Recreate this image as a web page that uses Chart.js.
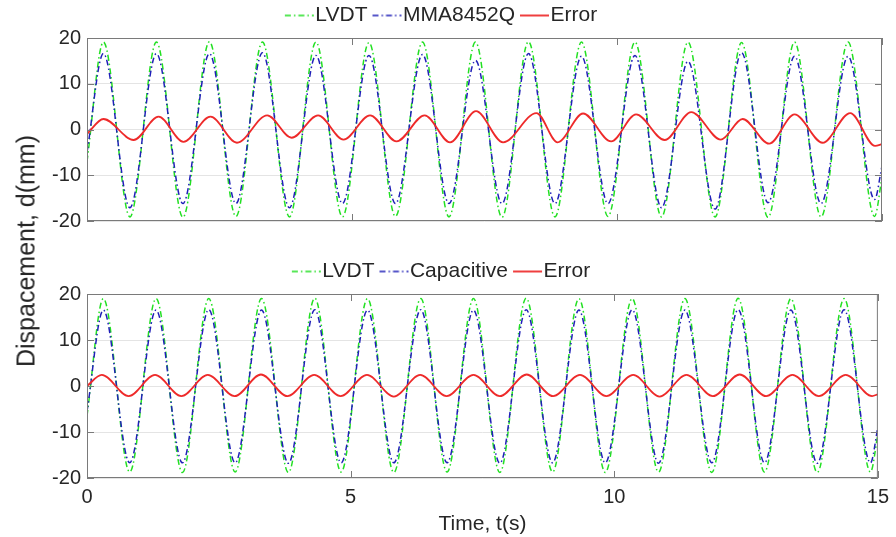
<!DOCTYPE html>
<html><head><meta charset="utf-8">
<script src="https://cdn.jsdelivr.net/npm/chart.js@4/dist/chart.umd.min.js"></script>
<style>
html,body{margin:0;padding:0;background:#fff;width:896px;height:537px;overflow:hidden;}
#wrap{position:relative;width:896px;height:537px;background:#fff;}
canvas{position:absolute;left:0;}
#c1{top:0;}
#c2{top:256px;}
#ylab{position:absolute;left:26px;top:251px;transform:translate(-50%,-50%) rotate(-90deg);font:25px 'Liberation Sans',Arial,sans-serif;color:#262626;white-space:nowrap;}
</style></head><body>
<div id="wrap">
<canvas id="c1" width="896" height="240"></canvas>
<canvas id="c2" width="896" height="281"></canvas>
<div id="ylab">Dispacement, d(mm)</div>
</div>
<script>
// ---- data (times of peaks / troughs in s, values in mm) ----
const extremeTimes = [0, 0.31,0.81, 1.31,1.81, 2.31,2.81, 3.31,3.82, 4.32,4.82, 5.32,5.82, 6.33,6.83, 7.33,7.83, 8.33,8.83, 9.33,9.83, 10.34,10.84, 11.34,11.85, 12.35,12.85, 13.35,13.85, 14.36,14.86, 15];
const lvdtTop = [-7, 19.1,-19.1, 19.1,-19.2, 19.2,-19.0, 19.1,-19.1, 19.1,-19.1, 19.0,-19.0, 19.1,-19.1, 19.1,-19.2, 19.2,-19.1, 19.1,-19.0, 19.1,-19.1, 19.1,-19.1, 19.0,-19.2, 19.1,-19.1, 19.1,-19.0, -10.5];
const mmaTop = [-5, 16.6,-17.1, 16.6,-16.2, 16.6,-16.2, 16.8,-17.1, 16.2,-16.2, 16.2,-16.2, 16.4,-16.2, 15.1,-16.2, 16.6,-16.2, 16.0,-16.2, 16.2,-17.1, 14.9,-17.4, 16.8,-16.0, 16.0,-16.2, 16.0,-15.3, -8];
const errTopTimes = [0, 0.31,0.88, 1.35,1.82, 2.33,2.83, 3.40,3.86, 4.36,4.84, 5.34,5.84, 6.37,6.85, 7.34,7.85, 8.48,8.88, 9.36,9.89, 10.36,10.90, 11.40,11.96, 12.37,12.87, 13.35,13.88, 14.40,14.87, 15];
const errTop = [-1, 2.3,-2.3, 2.8,-2.7, 2.8,-2.9, 3.1,-1.8, 3.1,-2.2, 3.1,-2.6, 3.1,-2.8, 4.0,-2.8, 3.6,-2.8, 3.5,-2.6, 3.3,-2.3, 3.8,-2.2, 2.3,-3.1, 3.3,-2.9, 3.6,-3.6, -3.2];
const lvdtBot = [-6.5, 19.0,-18.7, 19.0,-18.8, 19.0,-18.7, 19.0,-18.8, 19.1,-18.7, 19.0,-18.8, 19.0,-18.7, 19.0,-18.8, 19.1,-18.7, 19.0,-18.8, 19.0,-18.7, 19.0,-18.8, 19.1,-18.7, 19.0,-18.8, 19.0,-18.7, -10.5];
const capBot = [-5.5, 16.5,-16.7, 16.5,-16.7, 16.6,-16.7, 16.5,-16.8, 16.6,-16.7, 16.5,-16.7, 16.6,-16.7, 16.5,-16.8, 16.6,-16.7, 16.5,-16.7, 16.6,-16.8, 16.5,-16.7, 16.6,-16.7, 16.5,-16.8, 16.6,-16.7, -9];
const errBotTimes = [0, 0.28,0.79, 1.29,1.79, 2.29,2.80, 3.30,3.80, 4.31,4.81, 5.31,5.82, 6.32,6.82, 7.33,7.83, 8.34,8.84, 9.35,9.85, 10.36,10.86, 11.37,11.87, 12.38,12.88, 13.38,13.88, 14.39,14.89, 15];
const errBot = [0, 2.4,-2.2, 2.4,-2.2, 2.4,-2.2, 2.5,-2.2, 2.4,-2.2, 2.4,-2.3, 2.4,-2.2, 2.4,-2.2, 2.5,-2.2, 2.4,-2.2, 2.4,-2.3, 2.4,-2.2, 2.5,-2.2, 2.4,-2.2, 2.4,-2.2, -1.8];
const yTicks = [-20, -10, 0, 10, 20];
const xTicks = [0, 5, 10, 15];
const topNames = ['LVDT', 'MMA8452Q', 'Error'];
const botNames = ['LVDT', 'Capacitive', 'Error'];
const xTitle = 'Time, t(s)';

// ---- rendering ----
const FONT = "'Liberation Sans', Arial, Helvetica, sans-serif";
const TXT = '#262626';
Chart.defaults.font.family = FONT;
Chart.defaults.color = TXT;

const STYLES = [
  { color: '#22e022', width: 1.5, dash: [6, 3, 1.5, 3], order: 3 },
  { color: '#2020b8', width: 1.5, dash: [6, 3, 1.5, 3], order: 2 },
  { color: '#ee2a2a', width: 1.8, dash: [], order: 1 }
];

function sample(st) {
  const c = document.createElement('canvas');
  c.width = 50; c.height = 6;
  const g = c.getContext('2d');
  g.strokeStyle = st.color;
  g.lineWidth = st.width;
  g.setLineDash(st.dash);
  g.beginPath();
  g.moveTo(15, 3); g.lineTo(44, 3);
  g.stroke();
  return c;
}
const SAMPLES = STYLES.map(sample);

function pts(ts, vs) { return ts.map((t, i) => ({ x: t, y: vs[i] })); }

function makeChart(id, H, areaTop, areaBottom, names, series, showX) {
  const legendPad = {
    id: 'legendPad',
    beforeLayout(chart) {
      const lg = chart.legend;
      if (lg && !lg.__patched) {
        const f = lg.fit;
        lg.fit = function () { f.call(this); this.height = areaTop; };
        lg.__patched = true;
      }
    }
  };
  const boxTicks = {
    id: 'boxTicks',
    afterDraw(chart) {
      const { ctx, chartArea: a, scales: { x, y } } = chart;
      ctx.save();
      ctx.strokeStyle = '#7a7a7a';
      ctx.lineWidth = 1;
      ctx.strokeRect(a.left + 0.5, a.top + 0.5, a.right - a.left - 1, a.bottom - a.top - 1);
      const L = 7;
      ctx.beginPath();
      yTicks.forEach(v => {
        const py = Math.round(y.getPixelForValue(v)) + 0.5;
        ctx.moveTo(a.left, py); ctx.lineTo(a.left + L, py);
        ctx.moveTo(a.right, py); ctx.lineTo(a.right - L, py);
      });
      xTicks.forEach(v => {
        const px = Math.round(x.getPixelForValue(v)) + 0.5;
        ctx.moveTo(px, a.bottom); ctx.lineTo(px, a.bottom - L);
        ctx.moveTo(px, a.top); ctx.lineTo(px, a.top + L);
      });
      ctx.stroke();
      ctx.restore();
    }
  };
  const datasets = series.map((d, i) => ({
    label: names[i],
    data: d,
    borderColor: STYLES[i].color,
    backgroundColor: STYLES[i].color,
    borderWidth: STYLES[i].width,
    borderDash: STYLES[i].dash,
    order: STYLES[i].order,
    pointRadius: 0,
    pointHoverRadius: 0,
    fill: false,
    cubicInterpolationMode: 'monotone'
  }));
  return new Chart(document.getElementById(id), {
    type: 'line',
    data: { datasets },
    plugins: [legendPad, boxTicks],
    options: {
      responsive: false,
      animation: false,
      devicePixelRatio: 1,
      layout: { padding: { left: 0, right: 14, top: 0, bottom: 0 } },
      plugins: {
        tooltip: { enabled: false },
        legend: {
          position: 'top',
          align: 'center',
          labels: {
            usePointStyle: true,
            pointStyleWidth: 20,
            padding: 5,
            color: TXT,
            font: { family: FONT, size: 21 },
            sort: (a, b) => a.datasetIndex - b.datasetIndex,
            generateLabels: chart => {
              const items = Chart.defaults.plugins.legend.labels.generateLabels(chart);
              items.forEach(it => { it.pointStyle = SAMPLES[it.datasetIndex]; });
              return items;
            }
          }
        }
      },
      scales: {
        x: {
          type: 'linear',
          min: 0, max: 15,
          afterBuildTicks: s => { s.ticks = xTicks.map(v => ({ value: v })); },
          ticks: { display: showX, padding: 7, maxRotation: 0, color: TXT, font: { family: FONT, size: 20 } },
          grid: { display: false, drawTicks: false },
          border: { display: false },
          title: { display: showX, text: xTitle, color: TXT, font: { family: FONT, size: 21 }, padding: { top: 0, bottom: 0 } },
          afterFit: s => { s.height = H - areaBottom; }
        },
        y: {
          type: 'linear',
          min: -20, max: 20,
          afterBuildTicks: s => { s.ticks = yTicks.map(v => ({ value: v })); },
          ticks: { padding: 6, color: TXT, font: { family: FONT, size: 20 } },
          grid: { color: '#e4e4e4', lineWidth: 1, drawTicks: false },
          border: { display: false },
          afterFit: s => { s.width = 87; }
        }
      }
    }
  });
}

makeChart('c1', 240, 38, 221, topNames, [pts(extremeTimes, lvdtTop), pts(extremeTimes, mmaTop), pts(errTopTimes, errTop)], false);
makeChart('c2', 281, 38, 222, botNames, [pts(extremeTimes, lvdtBot), pts(extremeTimes, capBot), pts(errBotTimes, errBot)], true);
</script>
</body></html>
